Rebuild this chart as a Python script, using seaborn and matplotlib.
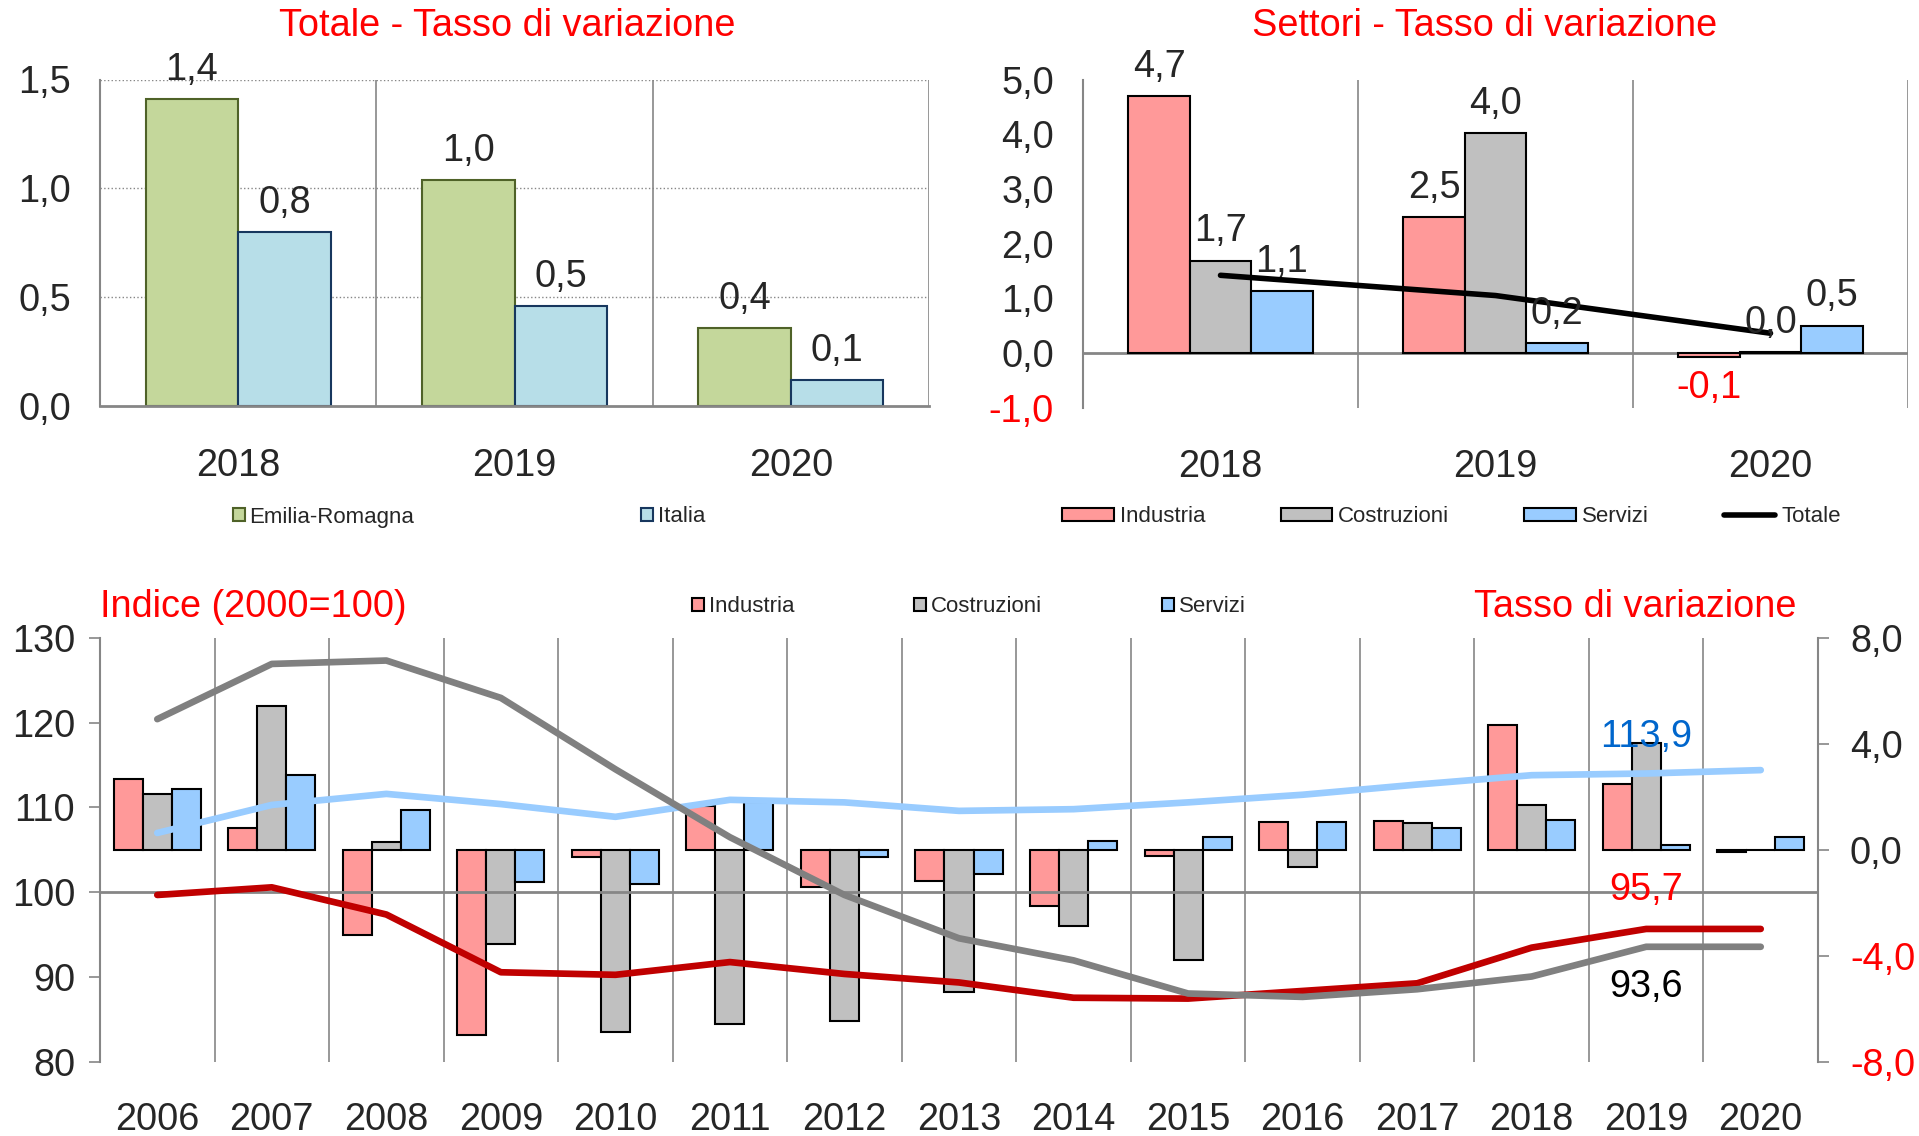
import matplotlib

matplotlib.use("Agg")
import matplotlib.pyplot as plt
import numpy as np
import pandas as pd
import seaborn as sns
from matplotlib.lines import Line2D
from matplotlib.patches import Patch

# --- dati: tassi di variazione 2018-2020 ---
anni_breve = ["2018", "2019", "2020"]
emilia_romagna = [1.41, 1.04, 0.36]
italia = [0.80, 0.46, 0.12]

industria_breve = [4.70, 2.48, -0.08]
costruzioni_breve = [1.69, 4.03, 0.01]
servizi_breve = [1.14, 0.18, 0.50]
totale_breve = [1.42, 1.05, 0.36]

# --- dati: serie storica 2006-2020 ---
anni = [str(a) for a in range(2006, 2021)]
industria_var = [2.67, 0.82, -3.20, -6.98, -0.25, 1.64, -1.41, -1.18, -2.10, -0.24, 1.04, 1.09, 4.70, 2.48, -0.08]
costruzioni_var = [2.12, 5.42, 0.29, -3.56, -6.86, -6.54, -6.43, -5.35, -2.85, -4.13, -0.66, 1.01, 1.69, 4.03, 0.01]
servizi_var = [2.29, 2.84, 1.50, -1.20, -1.30, 1.80, -0.25, -0.89, 0.35, 0.48, 1.07, 0.82, 1.14, 0.18, 0.50]

industria_idx = [99.7, 100.6, 97.4, 90.6, 90.3, 91.8, 90.4, 89.4, 87.6, 87.5, 88.4, 89.3, 93.5, 95.7, 95.7]
costruzioni_idx = [120.4, 126.9, 127.3, 122.9, 114.5, 106.5, 99.7, 94.6, 92.0, 88.1, 87.7, 88.6, 90.1, 93.6, 93.6]
servizi_idx = [107.0, 110.3, 111.6, 110.4, 108.9, 110.9, 110.6, 109.6, 109.8, 110.6, 111.5, 112.7, 113.8, 114.0, 114.4]

sns.set_style("white")
plt.rcParams["font.family"] = ["Liberation Sans", "DejaVu Sans"]

ROSSO = "#FF0000"
GRIGIO = "#868686"
C_IND, C_COS, C_SER = "#FF9999", "#C0C0C0", "#99CCFF"
BIG = 27.3
LEG = 16
W, H = 1919, 1136


def fmt(v):
    return f"{v:.1f}".replace(".", ",")


def stile_assi(ax, n, xpad=30):
    for s in ["top", "right", "bottom"]:
        ax.spines[s].set_visible(False)
    ax.spines["left"].set_color(GRIGIO)
    ax.spines["left"].set_linewidth(1.5)
    ax.set_xlim(-0.5, n - 0.5)
    for k in range(n):
        ax.axvline(k + 0.5, color=GRIGIO, lw=1.2, zorder=0)
    ax.tick_params(axis="x", length=0, pad=xpad, labelsize=BIG)
    ax.tick_params(axis="y", length=8, width=1.2, color=GRIGIO, pad=13,
                   labelsize=BIG, direction="out")
    ax.set_xlabel("")
    ax.set_ylabel("")


def etichette(ax, valori_serie):
    for cont, valori in zip(ax.containers, valori_serie):
        for bar, v in zip(cont, valori):
            xc = bar.get_x() + bar.get_width() / 2
            if v < 0:
                ax.annotate(fmt(v), (xc, v), xytext=(0, -9), textcoords="offset points",
                            ha="center", va="top", fontsize=BIG, color=ROSSO)
            else:
                ax.annotate(fmt(v), (xc, v), xytext=(0, 8), textcoords="offset points",
                            ha="center", va="bottom", fontsize=BIG)


fig = plt.figure(figsize=(W / 100, H / 100), dpi=100)

# --- Totale ---
ax1 = fig.add_axes([100 / W, 1 - 406 / H, 829 / W, 326.5 / H])
df1 = pd.DataFrame({
    "anno": anni_breve * 2,
    "valore": emilia_romagna + italia,
    "area": ["Emilia-Romagna"] * 3 + ["Italia"] * 3,
})
sns.barplot(data=df1, x="anno", y="valore", hue="area",
            palette=["#C4D79B", "#B7DEE8"], width=0.67, saturation=1,
            linewidth=1.5, legend=False, ax=ax1)
for cont, ec in zip(ax1.containers, ["#4F6228", "#17375E"]):
    for bar in cont:
        bar.set_edgecolor(ec)
stile_assi(ax1, 3)
ax1.spines["bottom"].set_visible(True)
ax1.spines["bottom"].set_color(GRIGIO)
ax1.spines["bottom"].set_linewidth(2)
ax1.set_ylim(0, 1.5)
yt = [0, 0.5, 1.0, 1.5]
ax1.set_yticks(yt, labels=[fmt(v) for v in yt])
for v in yt[1:]:
    ax1.axhline(v, color=GRIGIO, ls=":", lw=1, zorder=0)
etichette(ax1, [emilia_romagna, italia])

# --- Settori ---
ax2 = fig.add_axes([1083 / W, 1 - 407.6 / H, 825 / W, 328 / H])
df2 = pd.DataFrame({
    "anno": anni_breve * 3,
    "valore": industria_breve + costruzioni_breve + servizi_breve,
    "settore": ["Industria"] * 3 + ["Costruzioni"] * 3 + ["Servizi"] * 3,
})
sns.barplot(data=df2, x="anno", y="valore", hue="settore",
            palette=[C_IND, C_COS, C_SER], width=0.67, saturation=1,
            edgecolor="black", linewidth=1.5, legend=False, ax=ax2)
sns.lineplot(x=np.arange(len(anni_breve)), y=totale_breve, color="black", lw=4, ax=ax2)
stile_assi(ax2, 3)
ax2.axhline(0, color=GRIGIO, lw=2, zorder=0.5)
ax2.set_ylim(-1, 5)
yt = [-1, 0, 1, 2, 3, 4, 5]
ax2.set_yticks(yt, labels=[fmt(v) for v in yt])
for lbl, v in zip(ax2.get_yticklabels(), yt):
    if v < 0:
        lbl.set_color(ROSSO)
etichette(ax2, [industria_breve, costruzioni_breve, servizi_breve])

# --- Serie storica ---
ax3 = fig.add_axes([100 / W, 1 - 1062.3 / H, 1718 / W, 424.7 / H])
df3 = pd.DataFrame({
    "anno": anni * 3,
    "valore": industria_var + costruzioni_var + servizi_var,
    "settore": ["Industria"] * 15 + ["Costruzioni"] * 15 + ["Servizi"] * 15,
})
sns.barplot(data=df3, x="anno", y="valore", hue="settore",
            palette=[C_IND, C_COS, C_SER], width=0.76, saturation=1,
            edgecolor="black", linewidth=1.5, legend=False, ax=ax3)
stile_assi(ax3, 15, xpad=28.5)
ax3.set_ylim(-8, 8)
ax4 = ax3.twinx()
ax3.yaxis.tick_right()
ax4.yaxis.tick_left()
ax3.spines["left"].set_visible(False)
ax3.spines["right"].set_visible(True)
ax3.spines["right"].set_color(GRIGIO)
ax3.spines["right"].set_linewidth(1.5)
yt = [-8, -4, 0, 4, 8]
ax3.set_yticks(yt, labels=[fmt(v) for v in yt])
for lbl, v in zip(ax3.get_yticklabels(), yt):
    if v < 0:
        lbl.set_color(ROSSO)
ax3.tick_params(axis="y", pad=15)

pos = np.arange(len(anni))
ax4.axhline(100, color=GRIGIO, lw=2, zorder=0)
for valori, col in [(industria_idx, "#C00000"), (servizi_idx, "#99CCFF"), (costruzioni_idx, "#808080")]:
    sns.lineplot(x=pos, y=valori, color=col, lw=4.8, ax=ax4)
for s in ["top", "right", "bottom"]:
    ax4.spines[s].set_visible(False)
ax4.spines["left"].set_color(GRIGIO)
ax4.spines["left"].set_linewidth(1.5)
ax4.set_ylim(80, 130)
ax4.set_yticks(range(80, 131, 10))
ax4.tick_params(axis="y", length=8, width=1.2, color=GRIGIO, pad=10,
                labelsize=BIG, direction="out")
ax4.set_xlabel("")
ax4.set_ylabel("")
ax3.set_xlim(-0.5, 14.5)

ax4.text(13, 118.3, fmt(113.9), color="#0066CC", ha="center", va="center", fontsize=BIG)
ax4.text(13, 100.3, fmt(95.7), color=ROSSO, ha="center", va="center", fontsize=BIG)
ax4.text(13, 88.9, fmt(93.6), color="black", ha="center", va="center", fontsize=BIG)

# --- titoli ---
fig.text(507 / W, 1 - 26 / H, "Totale - Tasso di variazione", color=ROSSO,
         fontsize=BIG, ha="center", va="center")
fig.text(1485 / W, 1 - 26 / H, "Settori - Tasso di variazione", color=ROSSO,
         fontsize=BIG, ha="center", va="center")
fig.text(100 / W, 1 - 607 / H, "Indice (2000=100)", color=ROSSO,
         fontsize=BIG, ha="left", va="center")
fig.text(1796 / W, 1 - 607 / H, "Tasso di variazione", color=ROSSO,
         fontsize=BIG, ha="right", va="center")

# --- legende ---
fig.legend(
    [Patch(facecolor="#C4D79B", edgecolor="#4F6228", lw=1.5),
     Patch(facecolor="#B7DEE8", edgecolor="#17375E", lw=1.5)],
    ["Emilia-Romagna", "Italia"],
    loc="center", bbox_to_anchor=(469 / W, 1 - 517 / H), ncol=2, frameon=False,
    fontsize=LEG, handlelength=0.55, handleheight=0.55, handletextpad=0.2,
    columnspacing=10.2, borderpad=0, borderaxespad=0,
)
fig.legend(
    [Patch(facecolor=C_IND, edgecolor="black", lw=1.5),
     Patch(facecolor=C_COS, edgecolor="black", lw=1.5),
     Patch(facecolor=C_SER, edgecolor="black", lw=1.5),
     Line2D([], [], color="black", lw=4)],
    ["Industria", "Costruzioni", "Servizi", "Totale"],
    loc="center", bbox_to_anchor=(1451.5 / W, 1 - 517 / H), ncol=4, frameon=False,
    fontsize=LEG, handlelength=2.3, handleheight=0.55, handletextpad=0.27,
    columnspacing=3.4, borderpad=0, borderaxespad=0,
)
fig.legend(
    [Patch(facecolor=C_IND, edgecolor="black", lw=1.5),
     Patch(facecolor=C_COS, edgecolor="black", lw=1.5),
     Patch(facecolor=C_SER, edgecolor="black", lw=1.5)],
    ["Industria", "Costruzioni", "Servizi"],
    loc="center", bbox_to_anchor=(968.8 / W, 1 - 607 / H), ncol=3, frameon=False,
    fontsize=LEG, handlelength=0.55, handleheight=0.55, handletextpad=0.2,
    columnspacing=5.4, borderpad=0, borderaxespad=0,
)

fig.savefig("out.png", dpi=100)
plt.close(fig)
